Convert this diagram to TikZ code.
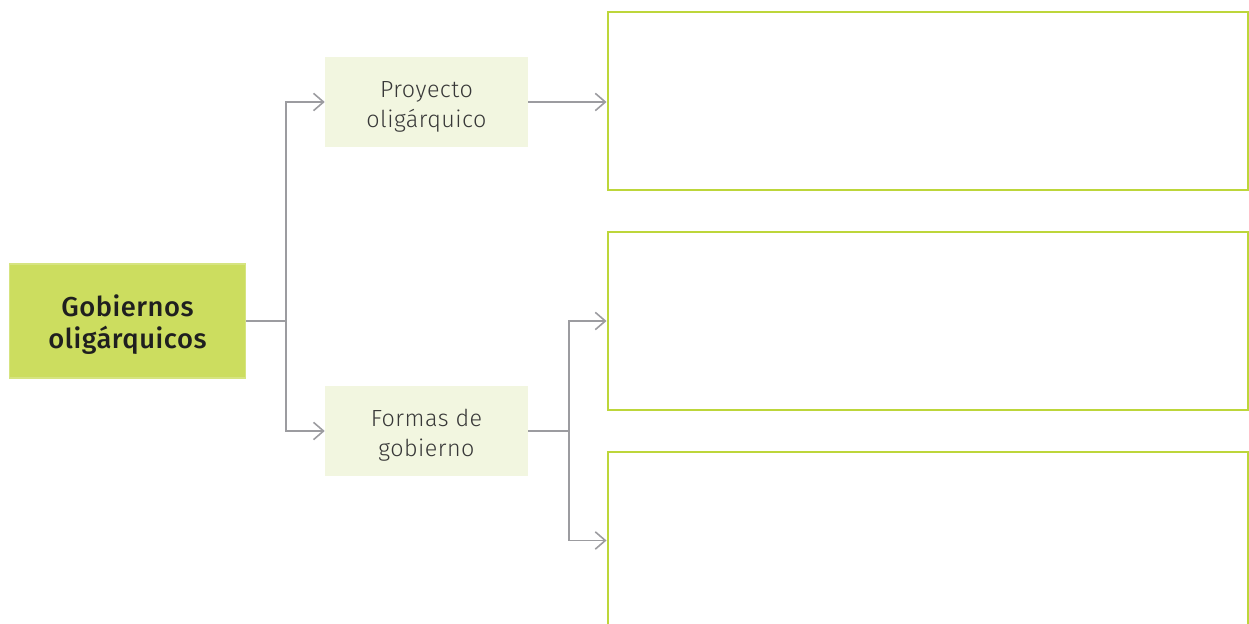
\documentclass[tikz,border=0pt]{standalone}
\usepackage{fontspec}
\setmainfont{Fira Sans}[UprightFont=* Light, BoldFont=* Medium, LetterSpace=2]
\usetikzlibrary{arrows.meta}
\definecolor{lima}{HTML}{CCDD5F}
\definecolor{limaborde}{HTML}{D6E481}
\definecolor{crema}{HTML}{F2F6E0}
\definecolor{verdemarco}{HTML}{BDD63A}
\definecolor{gris}{HTML}{9C9CA0}

\begin{document}
\begin{tikzpicture}[x=0.75pt, y=-0.75pt,
    tema/.style={draw=limaborde, line width=1.2pt, fill=lima, minimum width=177pt, minimum height=85.5pt, inner sep=0pt, align=center, font=\fontsize{20.5}{24}\selectfont\bfseries, text=black!88},
    subtema/.style={fill=crema, minimum width=152.25pt, minimum height=67.5pt, inner sep=0pt, align=center, font=\fontsize{17.5}{22.5}\selectfont, text=black!78},
    casilla/.style={draw=verdemarco, line width=1.5pt, minimum width=480pt, minimum height=133.5pt, inner sep=0pt},
    flecha/.style={draw=gris, line width=1.4pt, -{Straight Barb[length=7.5pt, width=13pt, line width=1.2pt]}},
    linea/.style={draw=gris, line width=1.4pt}]
    \useasboundingbox (0,0) rectangle (1249,624) ;
    \clip (0,0) rectangle (1249,624) ;

    \node [tema] (gob) at (127.5,321) {\rule{0pt}{21pt}Gobiernos\\oligárquicos} ;
    \node [subtema] (proy) at (426.5,102) {\rule{0pt}{19pt}Proyecto\\oligárquico} ;
    \node [subtema] (formas) at (426.5,431) {\rule{0pt}{19pt}Formas de\\gobierno} ;

    \node [casilla] (caja1) at (927.5,101.5) {} ;
    \node [casilla] (caja2) at (927.5,321) {} ;
    \node [casilla] (caja3) at (927.5,540.5) {} ;

    \coordinate (rama1) at (286,321) ;
    \coordinate (rama2) at (569,431) ;

    \draw [linea] (gob.east) -- (rama1) ;
    \draw [flecha] (rama1) |- (proy.west) ;
    \draw [flecha] (rama1) |- (formas.west) ;
    \draw [flecha] (proy.east) -- (proy.east -| caja1.west) ;

    \draw [linea] (formas.east) -- (rama2) ;
    \draw [flecha] (rama2) |- (caja2.west) ;
    \draw [flecha] (rama2) |- (caja3.west) ;
\end{tikzpicture}
\end{document}
